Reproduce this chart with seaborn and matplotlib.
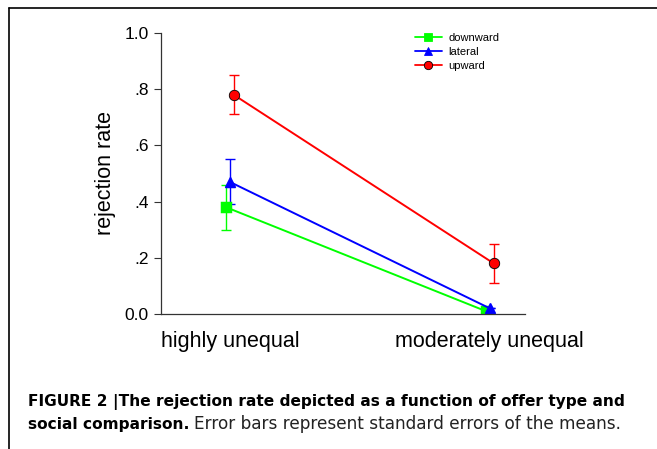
import matplotlib
matplotlib.use("Agg")
import matplotlib.pyplot as plt
import seaborn as sns
import pandas as pd
import numpy as np
from matplotlib.lines import Line2D

offer_types = ["highly unequal", "moderately unequal"]
groups = ["downward", "lateral", "upward"]
downward = [0.38, 0.01]
lateral = [0.47, 0.02]
upward = [0.78, 0.18]
downward_se = [0.08, 0.0]
lateral_se = [0.08, 0.0]
upward_se = [0.07, 0.07]
colors = ["#00ff00", "#0000ff", "#ff0000"]
markers = ["s", "^", "o"]

df = pd.DataFrame({
    "offer": offer_types * 3,
    "group": np.repeat(groups, 2),
    "rate": downward + lateral + upward,
})
errs = [downward_se, lateral_se, upward_se]

sns.set_style("white")
plt.rcParams["font.family"] = ["Liberation Sans", "DejaVu Sans"]
plt.rcParams["text.color"] = "black"
plt.rcParams["axes.labelcolor"] = "black"
plt.rcParams["xtick.labelcolor"] = "black"
plt.rcParams["ytick.labelcolor"] = "black"

fig = plt.figure(figsize=(6.57, 4.49), dpi=100)
ax = fig.add_axes([0.245, 0.3007, 0.554, 0.6258])

dodge = 0.03
sns.pointplot(data=df, x="offer", y="rate", hue="group", order=offer_types,
              hue_order=groups, palette=colors, markers=markers, linestyles="-",
              dodge=dodge, errorbar=None, ax=ax, markersize=7.5, linewidth=1.4)

offsets = np.linspace(0, dodge, len(groups)) - dodge / 2
for i, g in enumerate(groups):
    vals = df[df.group == g]["rate"].values
    ax.errorbar(np.arange(len(offer_types)) + offsets[i], vals, yerr=errs[i],
                fmt="none", ecolor=colors[i], elinewidth=1, capsize=3.5,
                capthick=1, zorder=1)

for line in ax.lines:
    if line.get_marker() == "o":
        line.set_markeredgecolor("black")
        line.set_markeredgewidth(0.6)

ax.set_xlim(-0.265, 1.135)
ax.set_ylim(0, 1.0)
ax.set_yticks([0, 0.2, 0.4, 0.6, 0.8, 1.0])
ax.set_yticklabels(["0.0", ".2", ".4", ".6", ".8", "1.0"])
ax.tick_params(axis="y", left=True, direction="out", length=5, width=0.8,
               color="#333333", labelsize=12.5, pad=4)
ax.tick_params(axis="x", bottom=False, labelsize=15.5, pad=9)
ax.set_xlabel("")
ax.set_ylabel("rejection rate", fontsize=15.5, labelpad=6)
for s in ["top", "right"]:
    ax.spines[s].set_visible(False)
for s in ["left", "bottom"]:
    ax.spines[s].set_color("#333333")
    ax.spines[s].set_linewidth(0.9)

handles = [Line2D([], [], color=c, marker=m, markersize=6, linewidth=1.3,
                  markeredgecolor=("black" if m == "o" else c), markeredgewidth=0.6)
           for c, m in zip(colors, markers)]
ax.legend(handles, groups, loc="upper left", bbox_to_anchor=(405 / 657, 1 - 23 / 449),
          bbox_transform=fig.transFigure, frameon=False, fontsize=8,
          handlelength=2.4, labelspacing=0.35, handletextpad=0.6)

# frame around the figure panel
fig.add_artist(Line2D([9 / 657, 9 / 657], [0, 1 - 8 / 449], color="black", lw=1.2))
fig.add_artist(Line2D([9 / 657, 1], [1 - 8 / 449, 1 - 8 / 449], color="black", lw=1.2))

cap_font = ["DejaVu Sans"]
fig.text(28 / 657, 1 - 406 / 449,
         "FIGURE 2 |The rejection rate depicted as a function of offer type and",
         fontsize=11.1, fontweight="bold", family=cap_font)
t = fig.text(28 / 657, 1 - 429 / 449, "social comparison.", fontsize=11.1,
             fontweight="bold", family=cap_font)
fig.canvas.draw()
bb = t.get_window_extent()
fig.text(bb.x1 / fig.bbox.width + 5 / 657, 1 - 429 / 449,
         "Error bars represent standard errors of the means.",
         fontsize=12.2, family=cap_font, color="#222222")

fig.savefig("out.png", dpi=100)
